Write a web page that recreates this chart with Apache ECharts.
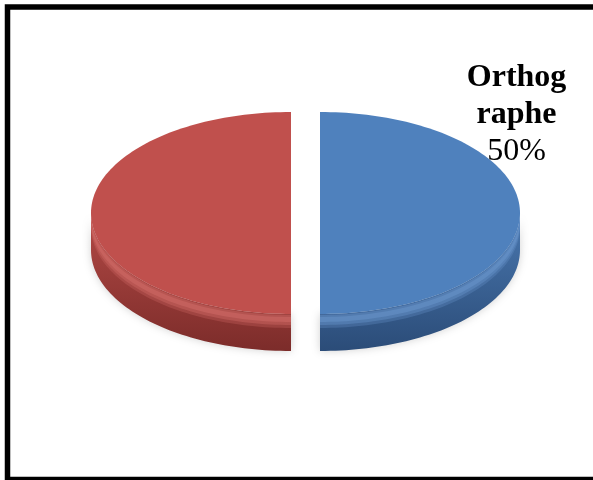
<!DOCTYPE html>
<html>
<head>
<meta charset="utf-8">
<script src="https://cdn.jsdelivr.net/npm/echarts@6/dist/echarts.min.js"></script>
<style>
  html, body { margin: 0; padding: 0; background: #fff; }
  #chart { width: 593px; height: 480px; }
</style>
</head>
<body>
<div id="chart"></div>
<script>
// Slice data
const categories = ['Orthographe', 'Autre'];
const values = [50, 50];
const showLabel = [true, false];

// Slice colours: top face, rim highlight, side light, side dark
const topColors = ['#4F81BD', '#C0504D'];
const rimColors = ['#6a96cc', '#d26b67'];
const sideLight = ['#4a78b0', '#b44a46'];
const sideDark = ['#2b4c78', '#7c2c2a'];

// 3D pie geometry (pixels)
const CX = 305.5, CY = 213, RX = 200, RY = 101, DEPTH = 37, EXPLODE = 14.5;
const START_ANGLE = 90;

// label typography
const NAME_FONT = 'bold 32px "Liberation Serif"';
const LABEL_WIDTH = 110;

const total = values.reduce((a, b) => a + b, 0);
const cumulative = [];
values.reduce((acc, v, i) => { cumulative[i] = acc; return acc + v; }, 0);

const rad = d => d * Math.PI / 180;

// break a word into lines that fit the label width (character wrapping)
const measureCtx = document.createElement('canvas').getContext('2d');
function wrapChars(text, font, maxW) {
  measureCtx.font = font;
  const lines = [];
  let cur = '';
  for (const ch of text) {
    if (cur && measureCtx.measureText(cur + ch).width > maxW) {
      lines.push(cur.trim());
      cur = ch;
    } else {
      cur += ch;
    }
  }
  if (cur) lines.push(cur.trim());
  return lines;
}

function ellipsePt(ox, oy, deg, dy) {
  return [ox + RX * Math.cos(rad(deg)), oy - RY * Math.sin(rad(deg)) + (dy || 0)];
}

function arcPoints(ox, oy, from, to, dy) {
  const pts = [];
  const steps = Math.max(8, Math.ceil(Math.abs(to - from) / 1.5));
  for (let k = 0; k <= steps; k++) {
    pts.push(ellipsePt(ox, oy, from + (to - from) * k / steps, dy));
  }
  return pts;
}

function band(ox, oy, f0, f1, d0, d1) {
  return arcPoints(ox, oy, f0, f1, d0).concat(arcPoints(ox, oy, f1, f0, d1));
}

function renderItem(params, api) {
  const i = params.dataIndex;
  const v = api.value(0);
  const a0 = START_ANGLE - 360 * cumulative[i] / total;
  const a1 = a0 - 360 * v / total;
  const mid = (a0 + a1) / 2;
  const ox = CX + EXPLODE * Math.cos(rad(mid));
  const oy = CY - EXPLODE * Math.sin(rad(mid)) * RY / RX;

  // front (visible) part of the rim: angles whose sine is <= 0
  const front = [];
  const steps = 240;
  for (let k = 0; k <= steps; k++) {
    const d = a0 + (a1 - a0) * k / steps;
    if (Math.sin(rad(d)) <= 1e-9) front.push(d);
  }

  const children = [];
  if (front.length > 1) {
    const f0 = front[0], f1 = front[front.length - 1];
    children.push({
      type: 'polygon',
      shape: { points: band(ox, oy, f0, f1, 0, DEPTH) },
      style: {
        fill: new echarts.graphic.LinearGradient(0, 0, 0, 1, [
          { offset: 0, color: sideLight[i] },
          { offset: 1, color: sideDark[i] }
        ]),
        shadowBlur: 8,
        shadowColor: 'rgba(0,0,0,0.18)'
      }
    });
    // rounded bevel: stacked translucent bands, brightest in the middle
    [[0, 14, 0.3], [1, 11, 0.4], [3, 8, 0.5]].forEach(b => {
      children.push({
        type: 'polygon',
        shape: { points: band(ox, oy, f0, f1, b[0], b[1]) },
        style: { fill: rimColors[i], opacity: b[2] }
      });
    });
  }

  // top face
  const topPts = [[ox, oy]].concat(arcPoints(ox, oy, a0, a1, 0));
  children.push({
    type: 'polygon',
    shape: { points: topPts },
    style: { fill: topColors[i] }
  });

  if (showLabel[i]) {
    const la = 45, lr = 1.39;
    const lx = ox + RX * lr * Math.cos(rad(la));
    const ly = oy - RY * lr * Math.sin(rad(la));
    const pct = Math.round(v / total * 100) + '%';
    const nameLines = wrapChars(categories[i], NAME_FONT, LABEL_WIDTH);
    const text = nameLines.map(s => '{n|' + s + '}').join('\n') + '\n{p|' + pct + '}';
    children.push({
      type: 'text',
      x: lx,
      y: ly + 1,
      style: {
        text: text,
        align: 'center',
        verticalAlign: 'middle',
        rich: {
          n: { fontFamily: 'Liberation Serif', fontWeight: 'bold', fontSize: 32, lineHeight: 37, fill: '#000', align: 'center' },
          p: { fontFamily: 'Liberation Serif', fontSize: 32, lineHeight: 37, fill: '#000', align: 'center' }
        }
      }
    });
  }

  return { type: 'group', children: children };
}

const chart = echarts.init(document.getElementById('chart'), null, { renderer: 'canvas' });
chart.setOption({
  backgroundColor: '#fff',
  animation: false,
  graphic: [{
    type: 'rect',
    shape: { x: 7.5, y: 7, width: 640, height: 472.5 },
    style: { fill: null, stroke: '#000', lineWidth: 5.5 },
    z: 10
  }],
  series: [{
    type: 'custom',
    coordinateSystem: 'none',
    renderItem: renderItem,
    data: values.map((v, i) => ({ name: categories[i], value: [v] }))
  }]
});
</script>
</body>
</html>
